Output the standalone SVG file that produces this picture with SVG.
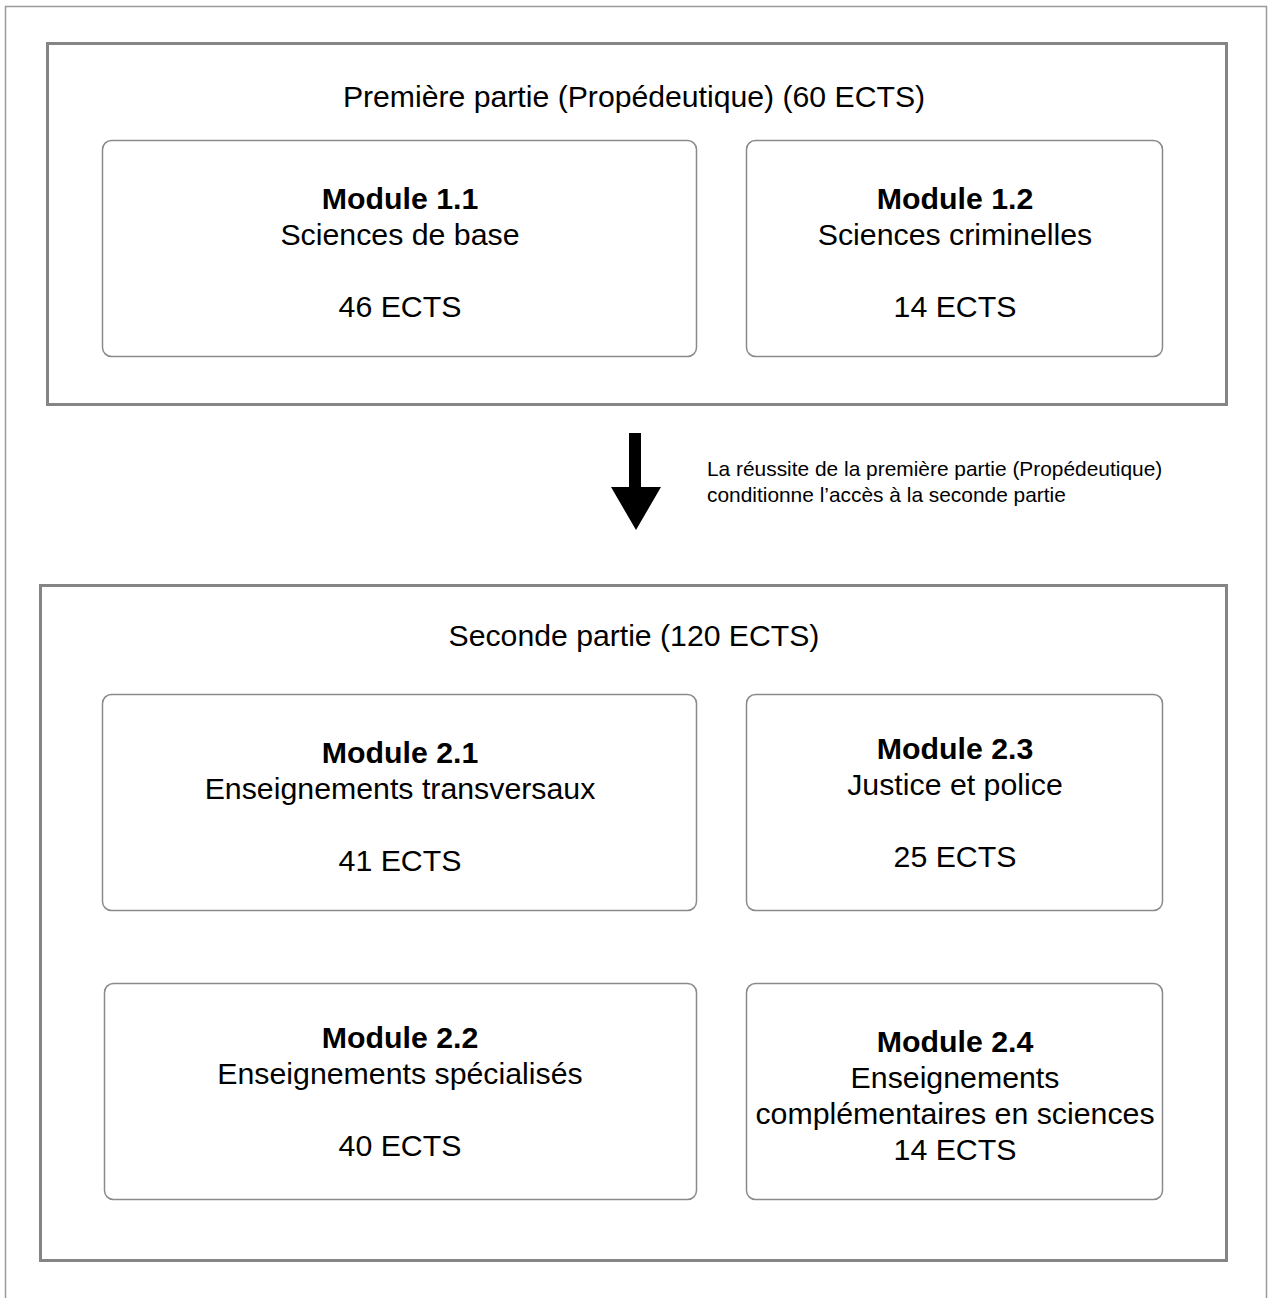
<svg xmlns="http://www.w3.org/2000/svg" width="1268" height="1298" viewBox="0 0 1268 1298">
<style>
.frame{fill:none;stroke:#9a9a9a;stroke-width:1.5}
.part{fill:#fff;stroke:#858585;stroke-width:3}
.mod{fill:#fff;stroke:#8a8a8a;stroke-width:1.5}
text{font-family:"Liberation Sans",Arial,Helvetica,sans-serif;fill:#000;text-anchor:middle}
.t{font-size:30.2px}
.b{font-size:30.3px;font-weight:bold}
.n{font-size:30.3px}
.note{font-size:20.9px;text-anchor:start}
</style>
<rect width="1268" height="1298" fill="#fff"/>
<path class="frame" d="M5.5,1298 V6.5 H1266.5 V1298"/>
<g id="part1">
<rect class="part" x="47.5" y="43.5" width="1179" height="361"/>
<text class="t" x="634" y="107">Première partie (Propédeutique) (60 ECTS)</text>
</g>
<g id="m11">
<rect class="mod" x="102.5" y="140.5" width="594" height="216" rx="9"/>
<text class="b" x="400" y="209">Module 1.1</text>
<text class="n" x="400" y="245">Sciences de base</text>
<text class="n" x="400" y="317">46 ECTS</text>
</g>
<g id="m12">
<rect class="mod" x="746.5" y="140.5" width="416" height="216" rx="9"/>
<text class="b" x="955" y="209">Module 1.2</text>
<text class="n" x="955" y="245">Sciences criminelles</text>
<text class="n" x="955" y="317">14 ECTS</text>
</g>
<g id="connectors">
<path d="M629,433 H641 V487 H661 L636,530 L611,487 H629 Z" fill="#000"/>
<text class="note" x="707" y="476">La réussite de la première partie (Propédeutique)</text>
<text class="note" x="707" y="502">conditionne l’accès à la seconde partie</text>
</g>
<g id="part2">
<rect class="part" x="40.5" y="585.5" width="1186" height="675"/>
<text class="t" x="634" y="646">Seconde partie (120 ECTS)</text>
</g>
<g id="m21">
<rect class="mod" x="102.5" y="694.5" width="594" height="216" rx="9"/>
<text class="b" x="400" y="763">Module 2.1</text>
<text class="n" x="400" y="799">Enseignements transversaux</text>
<text class="n" x="400" y="871">41 ECTS</text>
</g>
<g id="m23">
<rect class="mod" x="746.5" y="694.5" width="416" height="216" rx="9"/>
<text class="b" x="955" y="759">Module 2.3</text>
<text class="n" x="955" y="795">Justice et police</text>
<text class="n" x="955" y="867">25 ECTS</text>
</g>
<g id="m22">
<rect class="mod" x="104.5" y="983.5" width="592" height="216" rx="9"/>
<text class="b" x="400" y="1048">Module 2.2</text>
<text class="n" x="400" y="1084">Enseignements spécialisés</text>
<text class="n" x="400" y="1156">40 ECTS</text>
</g>
<g id="m24">
<rect class="mod" x="746.5" y="983.5" width="416" height="216" rx="9"/>
<text class="b" x="955" y="1052">Module 2.4</text>
<text class="n" x="955" y="1088">Enseignements</text>
<text class="n" x="955" y="1124">complémentaires en sciences</text>
<text class="n" x="955" y="1160">14 ECTS</text>
</g>
</svg>
